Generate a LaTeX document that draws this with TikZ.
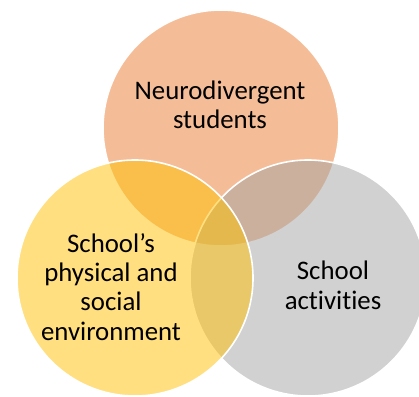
\documentclass[tikz,border=0pt]{standalone}
\usepackage{fontspec}
\setmainfont{Carlito}[Ligatures=NoCommon]
\definecolor{vorange}{HTML}{ED7D31}
\definecolor{vgold}{HTML}{FFC000}
\definecolor{vgray}{HTML}{A5A5A5}
\begin{document}
\begin{tikzpicture}[x=1pt,y=-1pt,
  venn/.style={draw=white,line width=1.6pt,fill opacity=0.5,draw opacity=1},
  lbl/.style={align=center,text=black,font=\fontsize{26.8}{29.3}\selectfont,inner sep=0pt}]
\useasboundingbox (0,0) rectangle (419,396);
\fill[white] (0,0) rectangle (419,396);
\filldraw[venn,fill=vorange] (221,128) circle (118);
\filldraw[venn,fill=vgray] (308,278) circle (118);
\filldraw[venn,fill=vgold] (135,278) circle (118);
\node[lbl] (top) at (220,104.6) {Neurodivergent\\students};
\node[lbl] (left) at (111,286.8) {School’s\\physical and\\social\\environment};
\node[lbl] (right) at (333,285.3) {School\\activities};
\end{tikzpicture}
\end{document}
